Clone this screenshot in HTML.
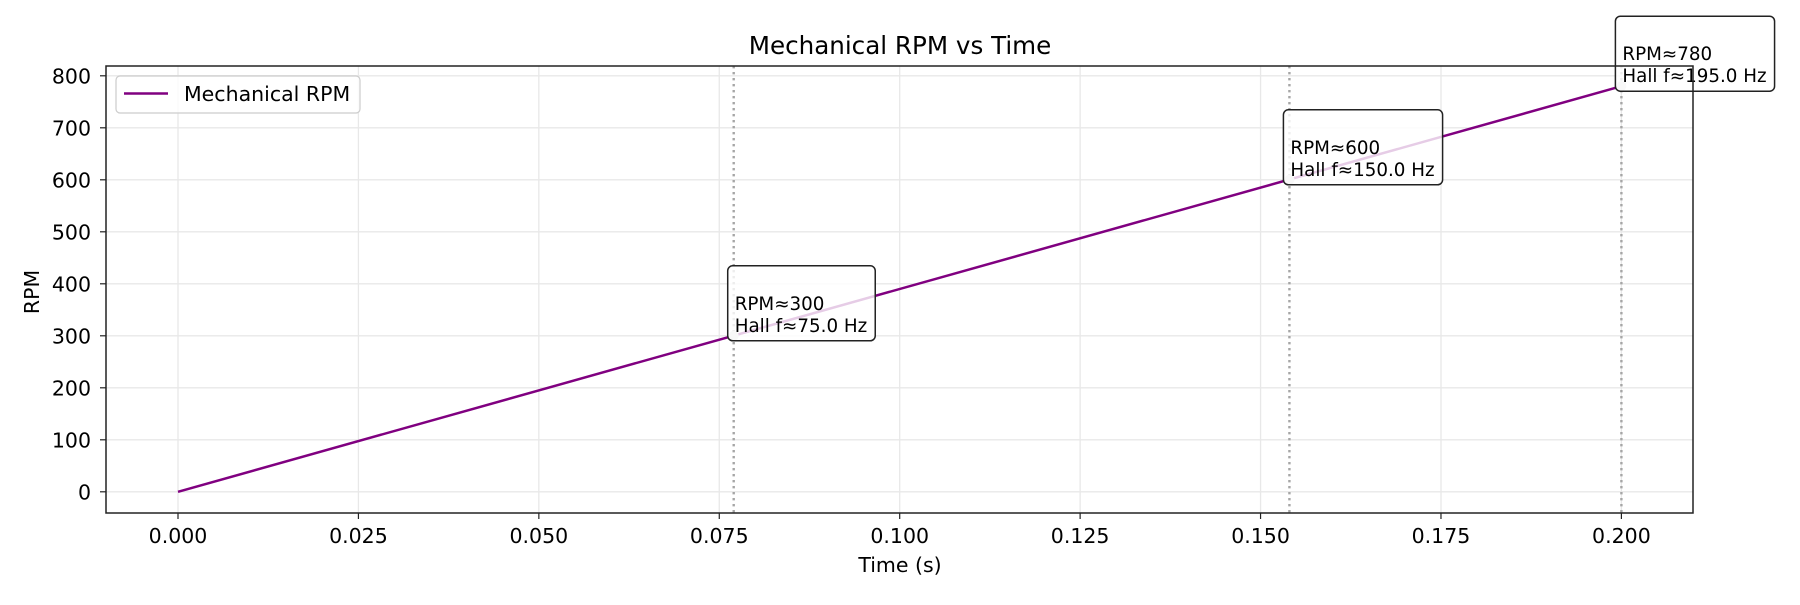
<!DOCTYPE html>
<html><head><meta charset="utf-8"><style>
html,body{margin:0;padding:0;background:#fff}
svg text{font-family:"DejaVu Sans","Liberation Sans",sans-serif;fill:#000}
</style></head><body>
<svg id="chart" width="1800" height="600" viewBox="0 0 1800 600" xmlns="http://www.w3.org/2000/svg">
<rect width="1800" height="600" fill="#fff"/>
<g id="grid"></g>
<g id="vlines"></g>
<g id="series"></g>
<g id="annots"></g>
<rect x="106" y="66" width="1587" height="447" fill="none" stroke="#222" stroke-width="1.5"/>
<g id="ticks"></g>
<text x="900" y="54" font-size="24.6" text-anchor="middle">Mechanical RPM vs Time</text>
<text x="900" y="572" font-size="20.5" text-anchor="middle">Time (s)</text>
<text x="0" y="0" font-size="20.5" text-anchor="middle" transform="translate(39,292) rotate(-90)">RPM</text>
<g>
<rect x="116" y="76" width="244" height="37" rx="4" fill="#fff" fill-opacity="0.8" stroke="#ccc" stroke-width="1.2"/>
<line x1="124" y1="93.5" x2="168" y2="93.5" stroke="#800080" stroke-width="2.5"/>
<text x="184" y="101" font-size="20.5">Mechanical RPM</text>
</g>
</svg>
<script>
const xTicks=[0,0.025,0.05,0.075,0.1,0.125,0.15,0.175,0.2];
const xTickLabels=["0.000","0.025","0.050","0.075","0.100","0.125","0.150","0.175","0.200"];
const yTicks=[0,100,200,300,400,500,600,700,800];
const seriesT=[0,0.2];
const seriesRPM=[0,780];
const markT=[0.077,0.154,0.2];
const markRPM=[300,600,780];
const markHz=["75.0","150.0","195.0"];
const NS="http://www.w3.org/2000/svg";
const L=106,R=1693,T=66,B=513;
function sx(t){return 178+(t-0)*(1621.4-178)/0.2;}
function sy(v){return 491.8-v*(491.8-75.8)/800;}
function mk(tag,attrs,parent){const e=document.createElementNS(NS,tag);for(const k in attrs)e.setAttribute(k,attrs[k]);parent.appendChild(e);return e;}
const grid=document.getElementById('grid'),ticks=document.getElementById('ticks');
xTicks.forEach((t,i)=>{
 const g=mk('line',{x1:sx(t),x2:sx(t),y1:T,y2:B,stroke:'#e8e8e8','stroke-width':1.3},grid);
 
 
 const tk=mk('line',{x1:sx(t),x2:sx(t),y1:B,y2:B+6,stroke:'#222','stroke-width':1.2},ticks);
 
 
 const tx=mk('text',{x:sx(t),y:543,'font-size':20.5,'text-anchor':'middle'},ticks);
 tx.textContent=xTickLabels[i];
 
 
});
yTicks.forEach(v=>{
 const g=mk('line',{x1:L,x2:R,y1:sy(v),y2:sy(v),stroke:'#e8e8e8','stroke-width':1.3},grid);
 
 
 const tk=mk('line',{x1:L-6,x2:L,y1:sy(v),y2:sy(v),stroke:'#222','stroke-width':1.2},ticks);
 
 
 const tx=mk('text',{x:91,y:sy(v)+7.5,'font-size':20.5,'text-anchor':'end'},ticks);
 tx.textContent=String(v);
 
 
});
const vl=document.getElementById('vlines');
markT.forEach(t=>{
 const l=mk('line',{x1:sx(t),x2:sx(t),y1:T,y2:B,stroke:'#a6a6a6','stroke-width':2.4,'stroke-dasharray':'2.4,3.6'},vl);
 
 
});
const pl=mk('polyline',{points:seriesT.map((t,i)=>sx(t)+','+sy(seriesRPM[i])).join(' '),fill:'none',stroke:'#800080','stroke-width':2.5},document.getElementById('series'));


const an=document.getElementById('annots');
markT.forEach((t,i)=>{
 const px=sx(t),py=sy(markRPM[i]);
 const g=mk('g',{},an);
 
 
 const c=mk('circle',{cx:px,cy:py,r:5,fill:'#ddd'},g);
 
 
 const box=mk('rect',{x:px-6,y:py-70,width:150,height:75,rx:5,fill:'#fff','fill-opacity':0.8,stroke:'#222','stroke-width':1.5},g);
 
 
 const t1=mk('text',{x:px+1,y:py-26,'font-size':18.3},g);
 t1.textContent='RPM≈'+markRPM[i];
 
 
 const t2=mk('text',{x:px+1,y:py-4,'font-size':18.3},g);
 t2.textContent='Hall f≈'+markHz[i]+' Hz';
 
 
 const w=Math.max(t1.getComputedTextLength(),t2.getComputedTextLength());
 box.setAttribute('width',w+15);
});
</script>
</body></html>
